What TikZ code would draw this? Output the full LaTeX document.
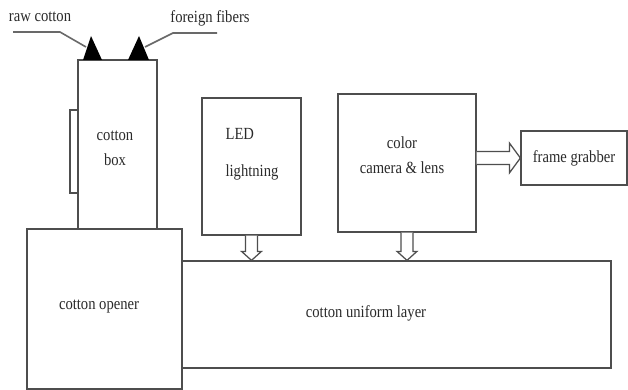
\documentclass[tikz,border=0pt]{standalone}
\usepackage{fontspec}
\newfontfamily\figfont[FakeStretch=0.86]{Liberation Serif}
\definecolor{boxedge}{HTML}{4E4E4E}
\definecolor{labeltext}{HTML}{2A2A2A}
\usetikzlibrary{calc}

\begin{document}
\begin{tikzpicture}[
  x=1pt,
  y=-1pt,
  line join=miter,
  box/.style={draw=boxedge,line width=1.25pt,inner sep=0pt,rectangle},
  boxtext/.style={font=\figfont\fontsize{17}{25}\selectfont,text=labeltext,inner sep=0pt,align=center},
  leader/.style={draw=boxedge!85,line width=1.6pt},
  feedtip/.style={fill=black,draw=none},
  hollow/.style={draw=boxedge,line width=1.25pt,fill=white}
]
  \useasboundingbox (0,0) rectangle (628,390);

  % Machine blocks.
  \node[box,minimum width=79pt,minimum height=169pt] (cottonbox) at (117.5,144.5) {};
  \node[box,minimum width=8pt,minimum height=83pt] (sidebar) at (74,151.5) {};
  \node[box,minimum width=155pt,minimum height=160pt] (opener) at (104.5,309) {};
  \node[box,minimum width=429pt,minimum height=107pt] (layer) at (396.5,314.5) {};
  \node[box,minimum width=99pt,minimum height=137pt] (led) at (251.5,166.5) {};
  \node[box,minimum width=138pt,minimum height=138pt] (camera) at (407,163) {};
  \node[box,minimum width=106pt,minimum height=54pt] (frame) at (574,158) {};

  % Block labels.
  \node[boxtext] (cottonboxtext) at (115,148) {cotton\\box};
  \node[boxtext,align=left,font=\figfont\fontsize{17}{37}\selectfont] (ledtext) at (252,154) {LED\\lightning};
  \node[boxtext] (cameratext) at (402,155) {color\\camera \& lens};
  \node[boxtext] (frametext) at (574,158) {frame grabber};
  \node[boxtext] (openertext) at (99,307) {cotton opener};
  \node[boxtext] (layertext) at (366,313) {cotton uniform layer};

  % Feed inlets on top of the cotton box.
  \coordinate (rawtip) at (91,36);
  \coordinate (foreigntip) at (139,36);
  \path[feedtip] (rawtip) -- (102,60) -- (83,60) -- cycle;
  \path[feedtip] (foreigntip) -- (149,60) -- (128,60) -- cycle;

  % Input labels with leader lines.
  \node[boxtext] (rawlabel) at (40,17) {raw cotton};
  \node[boxtext] (foreignlabel) at (210,18) {foreign fibers};
  \coordinate (rawstart) at (13,32);
  \coordinate (rawend) at (86,47);
  \coordinate (foreignstart) at (217,33);
  \coordinate (foreignend) at (145,47);
  \draw[leader] (rawstart) -- (60,32) -- (rawend);
  \draw[leader] (foreignstart) -- (173,33) -- (foreignend);

  % Hollow block arrows down onto the uniform layer.
  \foreach \src in {led,camera} {
    \draw[hollow] ([xshift=-6pt]\src.south)
      -- ([xshift=-6pt,yshift=9pt]\src.south |- layer.north)
      -- ([xshift=-10pt,yshift=9pt]\src.south |- layer.north)
      -- (\src.south |- layer.north)
      -- ([xshift=10pt,yshift=9pt]\src.south |- layer.north)
      -- ([xshift=6pt,yshift=9pt]\src.south |- layer.north)
      -- ([xshift=6pt]\src.south);
  }

  % Hollow block arrow from the camera to the frame grabber.
  \draw[hollow] ([yshift=6.5pt]camera.east |- frame.west)
    -- ([xshift=-11pt,yshift=6.5pt]frame.west)
    -- ([xshift=-11pt,yshift=15pt]frame.west)
    -- (frame.west)
    -- ([xshift=-11pt,yshift=-15pt]frame.west)
    -- ([xshift=-11pt,yshift=-6.5pt]frame.west)
    -- ([yshift=-6.5pt]camera.east |- frame.west);
\end{tikzpicture}
\end{document}
